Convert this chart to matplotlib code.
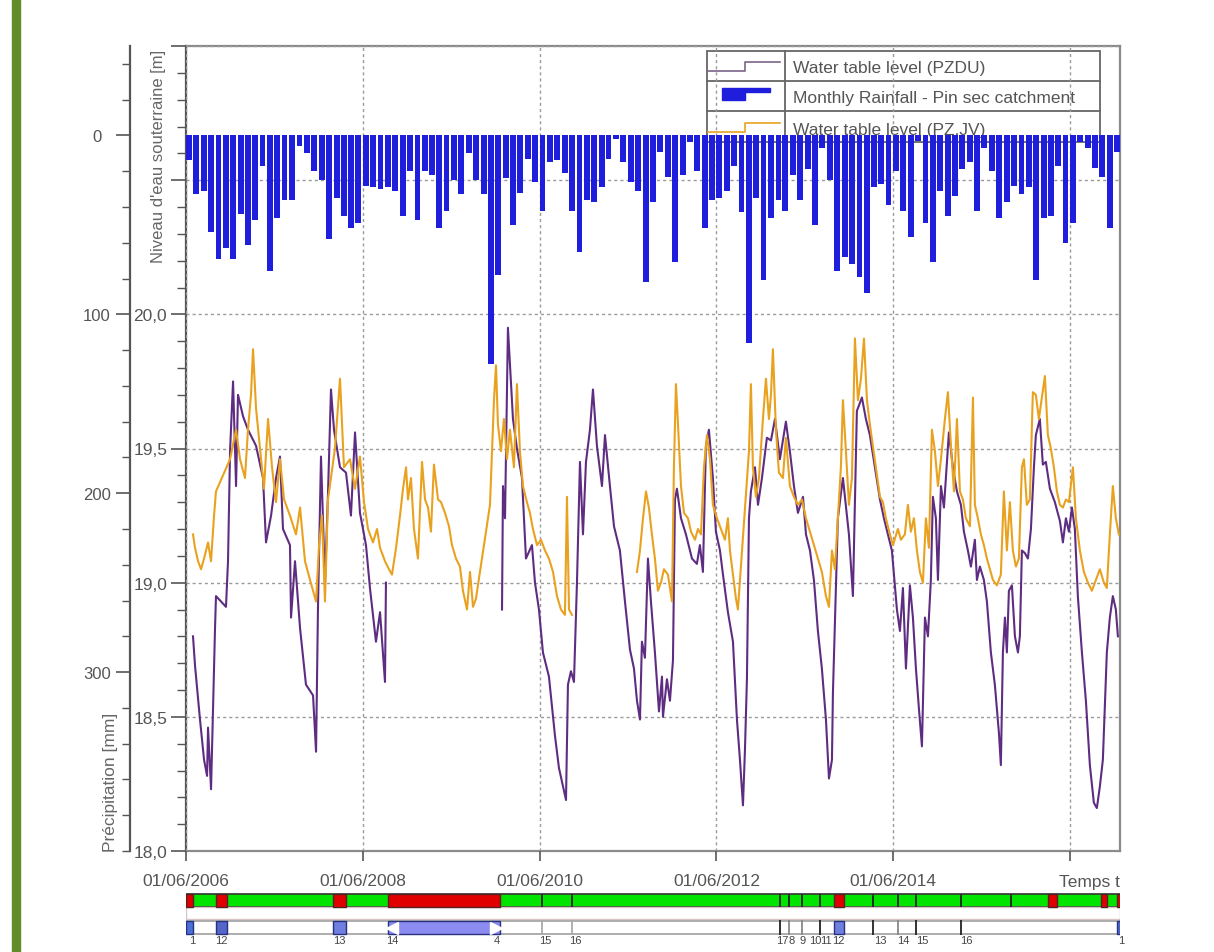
import numpy as np
import matplotlib
matplotlib.use('Agg')
import matplotlib.pyplot as plt
import matplotlib.ticker as mticker
from matplotlib.patches import Rectangle
from matplotlib.lines import Line2D
import datetime as dt

plt.rcParams['font.family'] = ['Liberation Sans', 'DejaVu Sans']

nan = float('nan')

# ---------------- data ----------------
rain_first_month = (2006, 6)
rain_mm = [14, 33, 31, 54, 69, 63, 69, 44, 61, 47,
           17, 76, 46, 36, 36, 6, 10, 20, 25, 58,
           35, 45, 52, 49, 28, 29, 30, 29, 31, 45,
           20, 47, 20, 22, 52, 42, 25, 33, 10, 25,
           33, 128, 78, 24, 50, 32, 13, 26, 42, 15,
           14, 21, 42, 65, 36, 37, 29, 13, 2, 15,
           26, 31, 82, 37,
           9.5, 23, 71, 22, 3.5, 20, 52, 36, 35, 31,
           17, 43, 116, 35, 81, 46, 36, 42, 22, 36,
           19, 50, 7, 25, 76, 68, 72, 79, 88, 29,
           27, 39, 20, 42, 57, 3, 49, 71, 31, 45,
           34, 19, 15, 42, 7, 20, 46, 37, 28, 33,
           29, 81, 46, 45, 17, 60, 49, 3.5, 7, 18,
           23, 52, 9]

# (decimal year, level m)
pzdu = [(2006.493,18.80),(2006.516,18.69),(2006.572,18.49),(2006.618,18.34),(2006.652,18.28),(2006.663,18.46),(2006.697,18.23),(2006.742,18.83),(2006.753,18.95),(2006.866,18.91),(2006.889,19.08),(2006.912,19.49),(2006.946,19.75),(2006.980,19.36),(2007.002,19.70),(2007.059,19.62),(2007.115,19.57),(2007.206,19.51),(2007.285,19.39),(2007.319,19.15),(2007.376,19.25),(2007.432,19.39),(2007.477,19.47),(2007.511,19.20),(2007.590,19.14),(2007.602,18.87),(2007.647,19.08),(2007.704,18.83),(2007.771,18.62),(2007.851,18.58),(2007.885,18.37),(2007.907,18.91),(2007.941,19.47),(2007.986,19.00),(2008.020,19.33),(2008.054,19.72),(2008.088,19.57),(2008.156,19.43),(2008.224,19.41),(2008.280,19.25),(2008.326,19.56),(2008.382,19.26),(2008.450,19.14),(2008.495,18.98),(2008.563,18.78),(2008.609,18.89),(2008.665,18.63),(2008.676,19.00),(2009.300,nan),
(2009.989,18.90),(2010.000,19.36),(2010.023,19.24),(2010.056,19.95),(2010.079,19.81),(2010.113,19.61),(2010.158,19.50),(2010.215,19.39),(2010.260,19.09),(2010.328,19.14),(2010.362,19.00),(2010.407,18.90),(2010.452,18.74),(2010.520,18.65),(2010.588,18.43),(2010.633,18.31),(2010.679,18.24),(2010.713,18.19),(2010.735,18.62),(2010.769,18.67),(2010.803,18.63),(2010.837,19.00),(2010.871,19.45),(2010.905,19.18),(2010.939,19.45),(2010.984,19.57),(2011.018,19.72),(2011.063,19.51),(2011.120,19.36),(2011.154,19.55),(2011.210,19.36),(2011.256,19.21),(2011.323,19.12),(2011.380,18.93),(2011.437,18.75),(2011.482,18.68),(2011.516,18.56),(2011.550,18.49),(2011.572,18.78),(2011.606,18.72),(2011.640,19.09),(2011.674,18.93),(2011.719,18.74),(2011.765,18.52),(2011.799,18.65),(2011.810,18.50),(2011.855,18.64),(2011.889,18.56),(2011.923,18.71),(2011.946,19.31),(2011.968,19.35),(2012.014,19.24),(2012.070,19.18),(2012.138,19.09),(2012.194,19.07),(2012.228,19.14),(2012.262,19.04),(2012.296,19.51),(2012.330,19.57),(2012.375,19.39),(2012.409,19.19),(2012.455,19.12),(2012.489,19.03),(2012.545,18.89),(2012.602,18.78),(2012.647,18.49),(2012.681,18.34),(2012.715,18.17),(2012.737,18.37),(2012.760,18.64),(2012.783,19.24),(2012.805,19.34),(2012.851,19.43),(2012.885,19.29),(2012.930,19.39),(2012.986,19.54),(2013.032,19.53),(2013.077,19.61),(2013.133,19.46),(2013.201,19.60),(2013.246,19.49),(2013.292,19.36),(2013.337,19.26),(2013.394,19.32),(2013.428,19.18),(2013.473,19.12),(2013.518,19.01),(2013.563,18.82),(2013.608,18.68),(2013.654,18.49),(2013.688,18.27),(2013.722,18.34),(2013.733,18.59),(2013.789,19.24),(2013.846,19.39),(2013.914,19.18),(2013.959,18.95),(2014.004,19.64),(2014.061,19.69),(2014.106,19.61),(2014.151,19.55),(2014.208,19.43),(2014.265,19.31),(2014.310,19.24),(2014.355,19.18),(2014.400,19.12),(2014.457,18.90),(2014.491,18.82),(2014.525,18.98),(2014.559,18.68),(2014.604,18.99),(2014.638,18.87),(2014.672,18.68),(2014.706,18.53),(2014.740,18.39),(2014.774,18.87),(2014.808,18.80),(2014.841,19.01),(2014.864,19.32),(2014.898,19.24),(2014.921,19.01),(2014.955,19.36),(2014.989,19.28),(2015.045,19.56),(2015.090,19.43),(2015.136,19.34),(2015.181,19.29),(2015.215,19.19),(2015.260,19.12),(2015.294,19.06),(2015.339,19.16),(2015.362,19.01),(2015.396,19.06),(2015.441,19.01),(2015.475,18.93),(2015.520,18.74),(2015.565,18.62),(2015.611,18.44),(2015.633,18.32),(2015.656,18.74),(2015.679,18.87),(2015.701,18.74),(2015.724,18.97),(2015.758,18.99),(2015.792,18.80),(2015.826,18.74),(2015.848,18.80),(2015.871,19.12),(2015.905,19.11),(2015.939,19.09),(2015.973,19.20),(2016.007,19.43),(2016.029,19.55),(2016.074,19.61),(2016.108,19.44),(2016.142,19.45),(2016.188,19.35),(2016.244,19.30),(2016.301,19.23),(2016.335,19.15),(2016.369,19.24),(2016.403,19.19),(2016.437,19.28),(2016.470,19.20),(2016.504,18.95),(2016.550,18.74),(2016.595,18.56),(2016.640,18.32),(2016.685,18.18),(2016.719,18.16),(2016.753,18.24),(2016.787,18.34),(2016.832,18.74),(2016.866,18.87),(2016.900,18.95),(2016.934,18.90),(2016.957,18.80)]

pzjv = [(2006.493,19.18),(2006.516,19.13),(2006.550,19.08),(2006.584,19.05),(2006.618,19.09),(2006.663,19.15),(2006.697,19.08),(2006.731,19.25),(2006.753,19.34),(2006.912,19.46),(2006.980,19.57),(2007.025,19.46),(2007.081,19.39),(2007.115,19.57),(2007.149,19.70),(2007.172,19.87),(2007.206,19.65),(2007.251,19.50),(2007.296,19.35),(2007.342,19.61),(2007.387,19.43),(2007.432,19.30),(2007.477,19.46),(2007.523,19.31),(2007.590,19.25),(2007.658,19.18),(2007.704,19.28),(2007.760,19.08),(2007.817,19.01),(2007.885,18.93),(2007.919,19.14),(2007.952,19.25),(2007.986,18.93),(2008.020,19.31),(2008.099,19.50),(2008.156,19.76),(2008.201,19.43),(2008.269,19.46),(2008.326,19.35),(2008.382,19.47),(2008.428,19.30),(2008.473,19.20),(2008.529,19.15),(2008.575,19.20),(2008.609,19.13),(2008.665,19.08),(2008.710,19.05),(2008.744,19.03),(2008.790,19.13),(2008.835,19.25),(2008.869,19.35),(2008.903,19.43),(2008.925,19.31),(2008.959,19.39),(2008.993,19.20),(2009.038,19.09),(2009.084,19.45),(2009.118,19.31),(2009.152,19.28),(2009.185,19.19),(2009.219,19.44),(2009.265,19.31),(2009.299,19.30),(2009.344,19.26),(2009.389,19.21),(2009.423,19.14),(2009.468,19.09),(2009.513,19.06),(2009.547,18.97),(2009.593,18.90),(2009.627,19.04),(2009.661,18.91),(2009.694,18.94),(2009.853,19.29),(2009.876,19.49),(2009.898,19.68),(2009.921,19.81),(2009.943,19.59),(2009.977,19.49),(2010.011,19.61),(2010.045,19.46),(2010.079,19.57),(2010.124,19.43),(2010.158,19.74),(2010.192,19.49),(2010.226,19.36),(2010.271,19.30),(2010.305,19.26),(2010.339,19.20),(2010.385,19.14),(2010.430,19.16),(2010.475,19.12),(2010.520,19.09),(2010.566,19.04),(2010.611,18.95),(2010.656,18.90),(2010.701,18.88),(2010.724,19.32),(2010.747,18.90),(2010.780,18.88),(2011.100,nan),
(2011.516,19.04),(2011.550,19.12),(2011.584,19.24),(2011.618,19.34),(2011.651,19.28),(2011.685,19.18),(2011.719,19.09),(2011.753,18.97),(2011.787,19.00),(2011.821,19.05),(2011.866,19.03),(2011.912,18.93),(2011.934,19.43),(2011.957,19.74),(2011.980,19.59),(2012.014,19.36),(2012.048,19.26),(2012.093,19.24),(2012.127,19.19),(2012.172,19.16),(2012.206,19.20),(2012.240,19.18),(2012.274,19.43),(2012.308,19.55),(2012.342,19.46),(2012.375,19.29),(2012.421,19.24),(2012.466,19.20),(2012.511,19.16),(2012.545,19.24),(2012.568,19.12),(2012.602,19.03),(2012.636,18.94),(2012.658,18.90),(2012.783,19.49),(2012.805,19.74),(2012.828,19.43),(2012.862,19.32),(2012.896,19.39),(2012.941,19.61),(2012.975,19.76),(2013.009,19.61),(2013.032,19.70),(2013.054,19.87),(2013.088,19.57),(2013.122,19.41),(2013.167,19.39),(2013.201,19.54),(2013.246,19.36),(2013.292,19.32),(2013.337,19.29),(2013.382,19.31),(2013.428,19.24),(2013.473,19.19),(2013.518,19.14),(2013.563,19.09),(2013.608,19.04),(2013.654,18.95),(2013.688,18.91),(2013.722,19.12),(2013.755,19.05),(2013.789,19.24),(2013.823,19.43),(2013.846,19.68),(2013.880,19.49),(2013.914,19.29),(2013.948,19.39),(2013.982,19.91),(2014.016,19.68),(2014.050,19.76),(2014.084,19.91),(2014.118,19.68),(2014.151,19.59),(2014.185,19.51),(2014.219,19.43),(2014.265,19.32),(2014.299,19.30),(2014.332,19.24),(2014.378,19.18),(2014.412,19.14),(2014.468,19.20),(2014.502,19.16),(2014.547,19.18),(2014.581,19.29),(2014.615,19.19),(2014.649,19.24),(2014.683,19.12),(2014.717,19.04),(2014.751,19.00),(2014.785,19.24),(2014.819,19.13),(2014.853,19.57),(2014.887,19.49),(2014.921,19.36),(2014.955,19.46),(2015.000,19.61),(2015.034,19.71),(2015.068,19.51),(2015.102,19.34),(2015.136,19.61),(2015.170,19.34),(2015.204,19.31),(2015.237,19.24),(2015.283,19.21),(2015.317,19.69),(2015.339,19.29),(2015.373,19.24),(2015.407,19.18),(2015.441,19.14),(2015.475,19.09),(2015.509,19.05),(2015.543,19.01),(2015.588,18.99),(2015.633,19.03),(2015.667,19.34),(2015.701,19.12),(2015.735,19.30),(2015.769,19.12),(2015.803,19.06),(2015.837,19.09),(2015.871,19.43),(2015.894,19.46),(2015.927,19.29),(2015.961,19.31),(2015.995,19.71),(2016.029,19.70),(2016.063,19.61),(2016.097,19.69),(2016.131,19.77),(2016.165,19.55),(2016.199,19.50),(2016.233,19.43),(2016.267,19.34),(2016.301,19.29),(2016.335,19.28),(2016.369,19.31),(2016.403,19.30),(2016.448,19.43),(2016.482,19.24),(2016.527,19.12),(2016.572,19.04),(2016.618,19.00),(2016.663,18.97),(2016.708,19.01),(2016.753,19.05),(2016.799,19.00),(2016.832,18.98),(2016.866,19.18),(2016.900,19.36),(2016.934,19.24),(2016.968,19.18)]

x_tick_dates = ['2006-06-01', '2008-06-01', '2010-06-01', '2012-06-01', '2014-06-01', '2016-06-01']
x_tick_labels = ['01/06/2006', '01/06/2008', '01/06/2010', '01/06/2012', '01/06/2014', '']
x_end_date = '2016-12-25'

wl_ticks = [18.0, 18.5, 19.0, 19.5, 20.0, 20.5, 21.0]
wl_labels = ['18,0', '18,5', '19,0', '19,5', '20,0', '', '']
rain_ticks = [0, 100, 200, 300]
rain_labels = ['0', '100', '200', '300']

# status strips (decimal years)
red_periods = [(2006.414, 2006.493), (2006.753, 2006.878), (2008.077, 2008.224),
               (2008.699, 2009.966), (2013.744, 2013.857), (2016.165, 2016.267),
               (2016.765, 2016.833), (2016.946, 2016.981)]
event_lines = [2010.441, 2010.780, 2013.133, 2013.235, 2013.382, 2013.586,
               2014.185, 2014.468, 2014.672, 2015.181, 2015.746]
blue_periods = [(2006.414, 2006.493, '#4F6FD8'), (2006.753, 2006.878, '#5565C8'),
                (2008.077, 2008.224, '#6F7FE0'), (2008.699, 2009.966, '#8C8CF0'),
                (2013.744, 2013.857, '#6F7FE0'), (2016.946, 2016.981, '#4F6FD8')]
event_lines2 = [2010.441, 2010.780, 2013.133, 2013.235, 2013.382, 2013.586,
                2014.185, 2014.468, 2014.672, 2015.181]
event_shade2 = ['#AAAAAA', '#AAAAAA', '#222222', '#888888', '#888888', '#222222',
                '#222222', '#888888', '#222222', '#222222']
strip_label_pos = [2006.482, 2006.810, 2008.145, 2008.744, 2009.932, 2010.475, 2010.814,
                   2013.156, 2013.269, 2013.393, 2013.529, 2013.654, 2013.789,
                   2014.265, 2014.525, 2014.740, 2015.237, 2016.990]
strip_label_txt = ['1', '12', '13', '14', '4', '15', '16', '17', '8', '9', '10', '11', '12',
                   '13', '14', '15', '16', '1']

legend_labels = ['Water table level (PZDU)', 'Monthly Rainfall - Pin sec catchment',
                 'Water table level (PZ.JV)']


# ---------------- helpers ----------------
def dec(s):
    d = dt.date.fromisoformat(s)
    a = dt.date(d.year, 1, 1)
    b = dt.date(d.year + 1, 1, 1)
    return d.year + (d - a).days / (b - a).days


def month_starts(first, n):
    y0, m0 = first
    out = []
    for i in range(n):
        k = (m0 - 1) + i
        out.append(dec(f'{y0 + k // 12}-{k % 12 + 1:02d}-01'))
    return out


TXT = '#555555'
W, H = 1214, 953
fig = plt.figure(figsize=(W / 100, H / 100), dpi=100)

# left decorative green band
fig.patches.append(Rectangle((12 / W, 0), 8 / W, 1, transform=fig.transFigure,
                             color='#628B2A', zorder=0))

x0, x1 = dec(x_tick_dates[0]), dec(x_end_date)

ax = fig.add_axes([186 / W, 1 - 852 / H, 934 / W, 805 / H])
ax.set_xlim(x0, x1)
ax.set_ylim(18.0, 21.0)
ax.set_axisbelow(False)

ax.yaxis.set_major_locator(mticker.FixedLocator(wl_ticks))
ax.yaxis.set_major_formatter(mticker.FixedFormatter(wl_labels))
ax.yaxis.set_minor_locator(mticker.MultipleLocator(0.1))
ax.tick_params(axis='y', which='major', length=10.5, width=1.2, color='#555',
               labelcolor=TXT, labelsize=12.5, pad=3)
ax.tick_params(axis='y', which='minor', length=6.5, width=1.0, color='#555')
ax.set_xticks([dec(d) for d in x_tick_dates])
ax.set_xticklabels(x_tick_labels)
ax.tick_params(axis='x', which='major', length=7.5, width=1.2, color='#555',
               labelcolor=TXT, labelsize=12.5, pad=8)
ax.grid(True, which='major', linestyle=(0, (2.2, 2.2)), color='#9a9a9a', lw=1.0)
for s in ['top', 'right', 'bottom']:
    ax.spines[s].set_color('#8a8a8a')
    ax.spines[s].set_linewidth(1.6)
ax.spines['left'].set_color('#555555')
ax.spines['left'].set_linewidth(1.6)

ax.text(1.0, -0.0373, 'Temps t', transform=ax.transAxes, ha='right', va='center',
        fontsize=12.5, color=TXT)

# water levels
t1, v1 = zip(*pzdu)
t2, v2 = zip(*pzjv)
ax.plot(t1, v1, color='#5E2D82', lw=1.5, zorder=3)
ax.plot(t2, v2, color='#E9A21F', lw=1.5, zorder=3.1)

# legend-like table (drawn beneath the rainfall bars)
def fx(px):
    return (px - 186) / 934


def fy(py):
    return (852 - py) / 805


T = ax.transAxes
ax.add_patch(Rectangle((fx(707), fy(143)), fx(1100) - fx(707), fy(52) - fy(143),
                       transform=T, facecolor='white', edgecolor='#666666', lw=1.3,
                       zorder=1, clip_on=False))
for py in (82, 112):
    ax.add_line(Line2D([fx(707), fx(1100)], [fy(py), fy(py)], transform=T,
                       color='#666666', lw=1.3, zorder=1.2))
ax.add_line(Line2D([fx(785), fx(785)], [fy(52), fy(143)], transform=T,
                   color='#666666', lw=1.3, zorder=1.2))
ax.add_line(Line2D([fx(708), fx(745), fx(745), fx(780)], [fy(72), fy(72), fy(63), fy(63)],
                   transform=T, color='#7A6488', lw=1.2, zorder=1.3))
ax.add_patch(Rectangle((fx(722), fy(101)), fx(745) - fx(722), fy(89) - fy(101),
                       transform=T, color='#1E1EDC', zorder=1.3))
ax.add_patch(Rectangle((fx(745), fy(93)), fx(770) - fx(745), fy(89) - fy(93),
                       transform=T, color='#1E1EDC', zorder=1.3))
ax.add_line(Line2D([fx(708), fx(745), fx(745), fx(780)], [fy(133), fy(133), fy(124), fy(124)],
                   transform=T, color='#E9A21F', lw=1.2, zorder=1.3))
for lab, py in zip(legend_labels, (68, 98, 130)):
    ax.text(fx(793), fy(py), lab, transform=T, ha='left', va='center',
            fontsize=12.5, color=TXT, zorder=1.4)

# rainfall axis (outer, inverted)
axr = ax.twinx()
axr.set_ylim(400, -50)
axr.set_xlim(x0, x1)
axr.patch.set_visible(False)
for s in ['right', 'top', 'bottom']:
    axr.spines[s].set_visible(False)
axr.spines['left'].set_visible(True)
axr.spines['left'].set_position(('outward', 40.3))
axr.spines['left'].set_color('#555555')
axr.spines['left'].set_linewidth(1.6)
axr.yaxis.set_ticks_position('left')
axr.yaxis.set_major_locator(mticker.FixedLocator(rain_ticks))
axr.yaxis.set_major_formatter(mticker.FixedFormatter(rain_labels))
axr.yaxis.set_minor_locator(mticker.FixedLocator(np.arange(-40, 401, 20)))
axr.tick_params(axis='y', which='major', length=10, width=1.2, color='#555',
                labelcolor=TXT, labelsize=12, pad=14)
axr.tick_params(axis='y', which='minor', length=6, width=1.0, color='#555')
for tl in axr.get_yticklabels():
    tl.set_ha('center')

months = month_starts(rain_first_month, len(rain_mm))
axr.bar(months, rain_mm, width=24 / 365.25, align='edge', bottom=0,
        color='#1E1EDC', edgecolor='none', zorder=5)

# axis titles
fig.text(158 / W, 1 - 50 / H, "Niveau d'eau souterraine [m]", rotation=90,
         ha='center', va='top', fontsize=12, color='#666666')
fig.text(111 / W, 1 - 852 / H, 'Précipitation [mm]', rotation=90,
         ha='center', va='bottom', fontsize=12.5, color='#666666')

# ---------------- bottom status strips ----------------
axs = fig.add_axes([186 / W, 0, 934 / W, 63 / H])
axs.set_xlim(x0, x1)
axs.set_ylim(0, 1)
axs.axis('off')

def sy(py):
    return (953 - py) / 63

# strip 1: green with red periods
axs.add_patch(Rectangle((x0, sy(908)), x1 - x0, sy(895) - sy(908), facecolor='#00E400',
                        edgecolor='#333333', lw=1.2, zorder=1))
for a, b in red_periods:
    axs.add_patch(Rectangle((a, sy(908)), b - a, sy(895) - sy(908), facecolor='#E00000',
                            edgecolor='#552222', lw=1.0, zorder=2))
axs.vlines(event_lines, sy(908), sy(895), color='#222222', lw=1.3, zorder=3)

# strip 2: empty band
axs.add_patch(Rectangle((x0, sy(920)), x1 - x0, sy(908) - sy(920), facecolor='white',
                        edgecolor='#D8C4C4', lw=1.0, zorder=1))

# strip 3: blue periods
axs.add_patch(Rectangle((x0, sy(935)), x1 - x0, sy(922) - sy(935), facecolor='white',
                        edgecolor='#A0A0A0', lw=1.2, zorder=1))
for a, b, c in blue_periods:
    axs.add_patch(Rectangle((a, sy(935)), b - a, sy(922) - sy(935), facecolor=c,
                            edgecolor='#283080', lw=1.0, zorder=2))
big = blue_periods[3]
axs.plot([big[0] + 0.05], [(sy(935) + sy(922)) / 2], marker='<', color='white',
         markersize=8, zorder=3)
axs.plot([big[1] - 0.05], [(sy(935) + sy(922)) / 2], marker='>', color='white',
         markersize=8, zorder=3)
for xv, c in zip(event_lines2, event_shade2):
    axs.vlines(xv, sy(936), sy(921), color=c, lw=1.3, zorder=3)
for xv, s in zip(strip_label_pos, strip_label_txt):
    axs.text(xv, sy(941), s, ha='center', va='center', fontsize=8, color='#444444',
             clip_on=False)

fig.savefig('out.png', dpi=100)
